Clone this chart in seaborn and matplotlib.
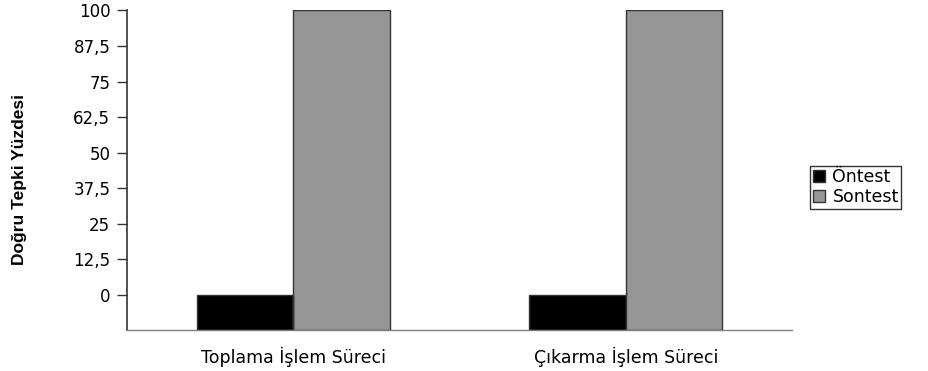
import matplotlib
matplotlib.use("Agg")
import matplotlib.pyplot as plt
import seaborn as sns
import pandas as pd

categories = ["Toplama İşlem Süreci", "Çıkarma İşlem Süreci"]
series_names = ["Öntest", "Sontest"]
ontest = [0, 0]
sontest = [100, 100]
ytick_values = [0, 12.5, 25, 37.5, 50, 62.5, 75, 87.5, 100]
ytick_labels = ["0", "12,5", "25", "37,5", "50", "62,5", "75", "87,5", "100"]
y_label = "Doğru Tepki Yüzdesi"

df = pd.DataFrame({
    "Süreç": categories * 2,
    "Test": [series_names[0]] * 2 + [series_names[1]] * 2,
    "Değer": ontest + sontest,
})

sns.set_style("white")
plt.rcParams["font.family"] = ["DejaVu Sans"]
plt.rcParams["text.color"] = "black"
plt.rcParams["axes.labelcolor"] = "black"
plt.rcParams["xtick.color"] = "black"
plt.rcParams["ytick.color"] = "black"

fig = plt.figure(figsize=(9.29, 3.71), dpi=100)
ax = fig.add_axes([0.1367, 0.1105, 0.8525 - 0.1367, 0.9717 - 0.1105])

base = -12.5
sns.barplot(data=df, x="Süreç", y="Değer", hue="Test", order=categories,
            hue_order=series_names, palette=["#000000", "#969696"],
            width=0.58, edgecolor="#333333", linewidth=1.0, saturation=1,
            ax=ax, legend=True)

for p in ax.patches:
    h = p.get_height()
    p.set_y(base)
    p.set_height(h - base)

ax.set_ylim(base, 100)
ax.set_xlim(-0.5, 1.5)
ax.set_yticks(ytick_values)
ax.set_yticklabels(ytick_labels, fontsize=12)
ax.tick_params(axis="y", which="both", left=True, length=7, width=1,
               color="#333333", labelcolor="black", pad=5)
ax.tick_params(axis="x", bottom=False, pad=9, labelcolor="black")
for lbl in ax.get_xticklabels():
    lbl.set_fontsize(12.5)
ax.set_xlabel("")
ax.set_ylabel(y_label, fontsize=12.5, fontweight="bold", color="black",
              family=["Liberation Sans", "DejaVu Sans"])
ax.yaxis.set_label_coords(-0.15, 0.47)

for s in ["top", "right"]:
    ax.spines[s].set_visible(False)
ax.spines["left"].set_color("#333333")
ax.spines["left"].set_linewidth(1.2)
ax.spines["bottom"].set_color("#808080")
ax.spines["bottom"].set_linewidth(1.0)

handles, labels = ax.get_legend_handles_labels()
leg = ax.legend(handles, labels, loc="center left", bbox_to_anchor=(1.027, 0.447),
                fancybox=False, frameon=True, edgecolor="#000000", fontsize=12.5,
                handlelength=0.7, handleheight=0.7, handletextpad=0.45,
                borderpad=0.15, labelspacing=0.1, borderaxespad=0)
leg.get_frame().set_linewidth(1.0)
for t in leg.get_texts():
    t.set_color("black")

fig.savefig("out.png", dpi=100)
